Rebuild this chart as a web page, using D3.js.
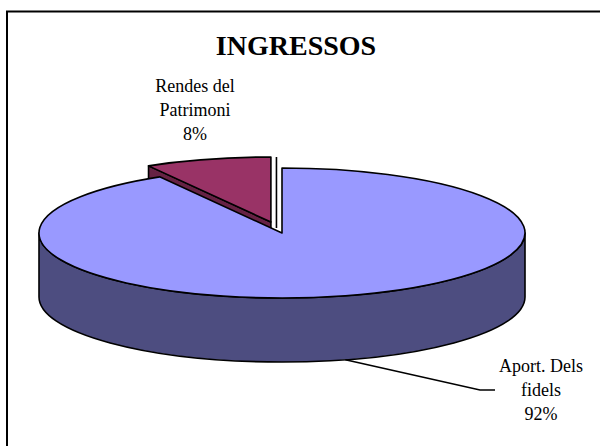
<!DOCTYPE html>
<html><head><meta charset="utf-8">
<script src="https://cdn.jsdelivr.net/npm/d3@7"></script>
<style>html,body{margin:0;padding:0;background:#fff;overflow:hidden}</style>
</head><body>
<script>
// ---- data ----
const categories = ["Aport. Dels fidels", "Rendes del Patrimoni"];
const values = [91.6, 8.4];
const labelLines = [["Aport. Dels", "fidels"], ["Rendes del", "Patrimoni"]];
const pctLabels = ["92%", "8%"];
const title = "INGRESSOS";

// ---- style / layout ----
const topColors = ["#9999FF", "#993366"];
const sideColors = ["#4D4D80", "#662244"];
const explodeFrac = [0, 0.175];
const W = 600, H = 446;
const cx = 282, cy = 233, rx = 243, ry = 65, depth = 64;
const FONT = "'Liberation Serif','Times New Roman',serif";

const svg = d3.select("body").append("svg").attr("width", W).attr("height", H);
svg.append("rect").attr("x", 7).attr("y", 11.5).attr("width", 640).attr("height", 480)
  .attr("fill", "#fff").attr("stroke", "#000").attr("stroke-width", 2);
svg.append("text").attr("x", 296).attr("y", 55).attr("text-anchor", "middle")
  .attr("font-family", FONT).attr("font-weight", "bold").attr("font-size", 28).text(title);

const arcs = d3.pie().sort(null).value(d => d)(values);
function pt(a, r, o, dz) {
  return [cx + o[0] + rx * r * Math.sin(a), cy + o[1] - ry * r * Math.cos(a) + (dz || 0)];
}
arcs.forEach((d, i) => {
  const mid = (d.startAngle + d.endAngle) / 2;
  const e = explodeFrac[i];
  d.o = [rx * e * Math.sin(mid), -ry * e * Math.cos(mid)];
  d.mid = mid;
  d.i = i;
});
const order = arcs.slice().sort((a, b) => Math.cos(b.mid) - Math.cos(a.mid));
const g = svg.append("g").attr("stroke", "#000").attr("stroke-width", 1.6).attr("stroke-linejoin", "round");

function arcCmd(a0, a1, o, dz, sweep) {
  const p = pt(sweep ? a1 : a0, 1, o, dz);
  const large = Math.abs(a1 - a0) > Math.PI ? 1 : 0;
  return `A${rx},${ry} 0 ${large} ${sweep} ${p[0]},${p[1]}`;
}

order.forEach(d => {
  const a0 = d.startAngle, a1 = d.endAngle, o = d.o;
  const c = pt(0, 0, o), cz = pt(0, 0, o, depth);
  // radial face at start edge
  if (Math.sin(a0) < -1e-6) {
    const p = pt(a0, 1, o), pz = pt(a0, 1, o, depth);
    g.append("path").attr("fill", sideColors[d.i])
      .attr("d", `M${c}L${p}L${pz}L${cz}Z`);
  }
  // radial face at end edge
  if (-Math.sin(a1) < -1e-6) {
    const p = pt(a1, 1, o), pz = pt(a1, 1, o, depth);
    g.append("path").attr("fill", sideColors[d.i])
      .attr("d", `M${c}L${p}L${pz}L${cz}Z`);
  }
  // outer wall (front half)
  const w0 = Math.max(a0, Math.PI / 2), w1 = Math.min(a1, 3 * Math.PI / 2);
  if (w1 > w0) {
    const p0 = pt(w0, 1, o), p1z = pt(w1, 1, o, depth);
    g.append("path").attr("fill", sideColors[d.i])
      .attr("d", `M${p0}${arcCmd(w0, w1, o, 0, 1)}L${p1z}${arcCmd(w0, w1, o, depth, 0)}Z`);
  }
  // top
  const p0 = pt(a0, 1, o);
  g.append("path").attr("fill", topColors[d.i])
    .attr("d", `M${c}L${p0}${arcCmd(a0, a1, o, 0, 1)}Z`);
  // edge-on line of exploded slice face
  if (explodeFrac[d.i] > 0) {
    const t = pt(a1, 1, o), base = pt(0, 0, [0, 0]);
    const lx = (t[0] + base[0]) / 2;
    g.append("line").attr("x1", lx).attr("x2", lx).attr("y1", t[1]).attr("y2", base[1] - 5);
  }
});

// labels
const labelPos = [[541, 372], [195, 92]];
const lineH = 24;
arcs.forEach((d, i) => {
  const t = svg.append("text").attr("text-anchor", "middle").attr("font-family", FONT)
    .attr("font-size", 18).attr("fill", "#000");
  labelLines[i].concat([pctLabels[i]]).forEach((s, k) => {
    t.append("tspan").attr("x", labelPos[i][0]).attr("y", labelPos[i][1] + k * lineH).text(s);
  });
});
// leader line for big slice
{
  const d = arcs[0];
  const s = pt(d.mid, 1, d.o, depth);
  const elbow = [[480, 390], [495, 390]];
  svg.append("path").attr("fill", "none").attr("stroke", "#000").attr("stroke-width", 1.6)
    .attr("d", d3.line()([s, ...elbow]));
}
</script>
</body></html>
